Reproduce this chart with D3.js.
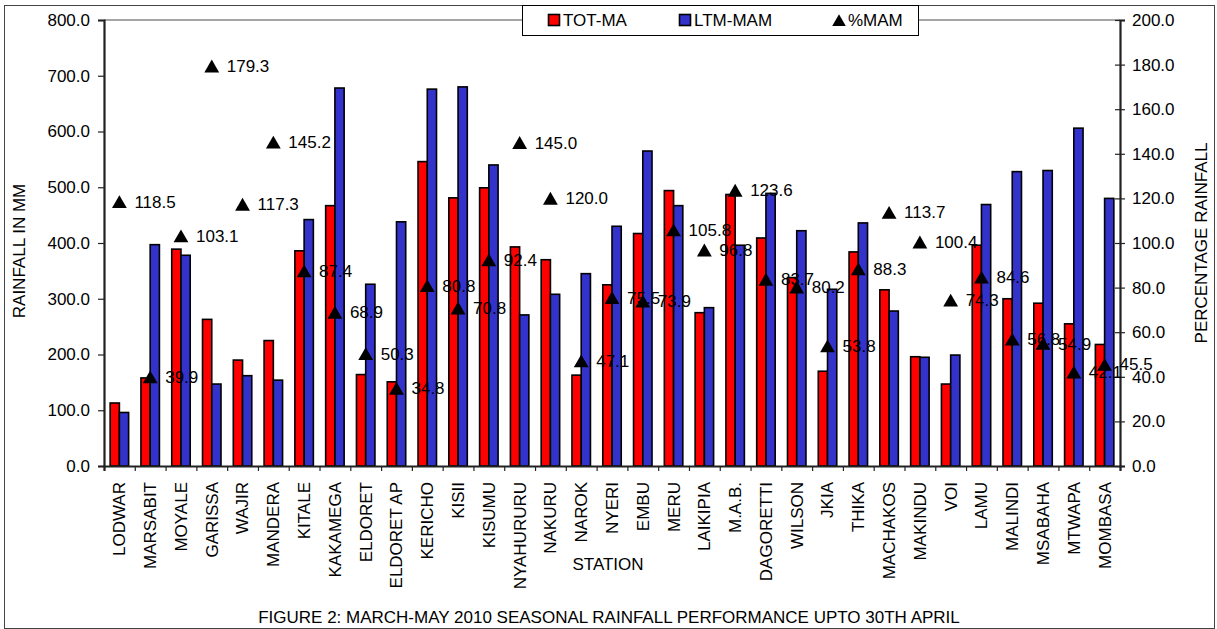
<!DOCTYPE html>
<html lang="en">
<head>
  <meta charset="UTF-8">
  <title>March-May 2010 seasonal rainfall performance</title>
  <script src="https://d3js.org/d3.v7.min.js"></script>
  <style>
    body { margin: 0; background: #fff; }
    svg { display: block; font-family: "Liberation Sans", Arial, sans-serif; }
    .tick text { font-size: 17px; fill: #000; }
    .lbl { font-size: 17px; fill: #000; }
  </style>
</head>
<body>
<svg width="1217" height="629"></svg>

<script>
  // stations along the x axis
  const stations = ["LODWAR", "MARSABIT", "MOYALE", "GARISSA", "WAJIR", "MANDERA", "KITALE",
    "KAKAMEGA", "ELDORET", "ELDORET AP", "KERICHO", "KISII", "KISUMU", "NYAHURURU", "NAKURU",
    "NAROK", "NYERI", "EMBU", "MERU", "LAIKIPIA", "M.A.B.", "DAGORETTI", "WILSON", "JKIA",
    "THIKA", "MACHAKOS", "MAKINDU", "VOI", "LAMU", "MALINDI", "MSABAHA", "MTWAPA", "MOMBASA"];

  // total rainfall Mar-Apr (mm)
  const totMA = [113, 158, 389, 263, 190, 225, 386, 467, 164, 151, 546, 481, 499, 393, 370,
    163, 325, 417, 494, 275, 487, 409, 338, 170, 384, 316, 196, 147, 396, 300, 292, 255, 218];

  // long term mean MAM (mm)
  const ltmMAM = [96, 397, 378, 147, 162, 154, 442, 678, 326, 438, 676, 680, 540, 271, 308,
    345, 430, 565, 467, 284, 396, 489, 422, 317, 436, 278, 195, 199, 469, 528, 530, 606, 480];

  // percentage of MAM
  const pctMAM = [118.5, 39.9, 103.1, 179.3, 117.3, 145.2, 87.4, 68.9, 50.3, 34.8, 80.8, 70.8,
    92.4, 145.0, 120.0, 47.1, 75.5, 73.9, 105.8, 96.8, 123.6, 83.7, 80.2, 53.8, 88.3, 113.7,
    100.4, 74.3, 84.6, 56.8, 54.9, 42.1, 45.5];

  const mmTicks = [0, 100, 200, 300, 400, 500, 600, 700, 800];
  const pctTicks = [0, 20, 40, 60, 80, 100, 120, 140, 160, 180, 200];

  const series = ["TOT-MA", "LTM-MAM", "%MAM"];
  const colors = {"TOT-MA": "#ff0000", "LTM-MAM": "#3333cc"};

  const svg = d3.select("svg");
  const margin = {top: 20, left: 104, right: 97, bottom: 163};
  const W = +svg.attr("width"), H = +svg.attr("height");
  const width = W - margin.left - margin.right;
  const height = H - margin.top - margin.bottom;

  // outer frame
  svg.append("rect")
    .attr("x", 4.5).attr("y", 5.5).attr("width", W - 7).attr("height", H - 6)
    .attr("fill", "none").attr("stroke", "#444").attr("stroke-width", 1);

  const g = svg.append("g").attr("transform", `translate(${margin.left},${margin.top})`);

  const x = d3.scaleBand().domain(stations).range([0, width]).padding(0);
  const xi = d3.scaleBand().domain(["TOT-MA", "LTM-MAM"])
    .range([x.bandwidth() * 0.2, x.bandwidth() * 0.8]).padding(0);
  const xb = d3.scaleLinear().domain([0, stations.length]).range([0, width]);
  const y = d3.scaleLinear().domain([0, 800]).range([height, 0]);
  const y2 = d3.scaleLinear().domain([0, 200]).range([height, 0]);

  // top border of plot area (gray)
  g.append("line")
    .attr("x1", 0).attr("x2", width).attr("y1", 0).attr("y2", 0)
    .attr("stroke", "#888").attr("stroke-width", 1.5);

  // bars
  const rows = stations.map((s, i) => ({s, v: [["TOT-MA", totMA[i]], ["LTM-MAM", ltmMAM[i]]]}));
  g.append("g").selectAll("g").data(rows).join("g")
      .attr("transform", d => `translate(${x(d.s)},0)`)
    .selectAll("rect").data(d => d.v).join("rect")
      .attr("x", d => xi(d[0]))
      .attr("y", d => y(d[1]))
      .attr("width", xi.bandwidth())
      .attr("height", d => height - y(d[1]))
      .attr("fill", d => colors[d[0]])
      .attr("stroke", "#000").attr("stroke-width", 1.6);

  // left axis
  const ax = g.append("g")
    .call(d3.axisLeft(y).tickValues(mmTicks).tickFormat(d3.format(".1f")).tickSize(6).tickPadding(8));
  ax.select(".domain").attr("stroke", "#222").attr("stroke-width", 2.2);
  ax.selectAll(".tick line").attr("stroke", "#222").attr("stroke-width", 1.2);

  // right axis, ticks crossing the line
  const ar = g.append("g").attr("transform", `translate(${width},0)`)
    .call(d3.axisRight(y2).tickValues(pctTicks).tickFormat(d3.format(".1f")).tickSize(5).tickPadding(7));
  ar.select(".domain").attr("stroke", "#222").attr("stroke-width", 2.2);
  ar.selectAll(".tick line").attr("x1", -5).attr("stroke", "#222").attr("stroke-width", 1.2);

  // bottom axis: ticks at category boundaries
  const ab = g.append("g").attr("transform", `translate(0,${height})`)
    .call(d3.axisBottom(xb).tickValues(d3.range(stations.length + 1)).tickFormat("").tickSize(5));
  ab.select(".domain").attr("stroke", "#222").attr("stroke-width", 2.2);
  ab.selectAll(".tick line").attr("stroke", "#222").attr("stroke-width", 1.2);

  // station labels
  g.append("g").selectAll("text").data(stations).join("text")
    .attr("class", "lbl")
    .attr("transform", d => `translate(${x(d) + x.bandwidth() / 2},${height + 16}) rotate(-90)`)
    .attr("text-anchor", "end")
    .attr("dy", "0.35em")
    .text(d => d);

  // %MAM markers (triangle box centred on the value)
  const tri = d3.symbol().type(d3.symbolTriangle).size(95);
  const pts = g.append("g");
  pts.selectAll("path").data(pctMAM).join("path")
    .attr("d", tri)
    .attr("transform", (d, i) => `translate(${x(stations[i]) + x.bandwidth() / 2},${y2(d) + 2})`)
    .attr("fill", "#000");
  pts.selectAll("text").data(pctMAM).join("text")
    .attr("class", "lbl")
    .attr("x", (d, i) => x(stations[i]) + x.bandwidth() / 2 + 15)
    .attr("y", d => y2(d))
    .attr("dy", "0.35em")
    .text(d => d.toFixed(1));

  // axis titles
  svg.append("text").attr("class", "lbl")
    .attr("transform", "translate(25,251) rotate(-90)")
    .attr("text-anchor", "middle").text("RAINFALL IN MM");
  svg.append("text").attr("class", "lbl")
    .attr("transform", "translate(1207,243) rotate(-90)")
    .attr("text-anchor", "middle").text("PERCENTAGE RAINFALL");
  svg.append("text").attr("class", "lbl")
    .attr("x", 608).attr("y", 570).attr("text-anchor", "middle").text("STATION");
  svg.append("text").attr("class", "lbl")
    .attr("x", 609).attr("y", 623).attr("text-anchor", "middle")
    .text("FIGURE 2: MARCH-MAY 2010 SEASONAL RAINFALL PERFORMANCE UPTO 30TH APRIL");

  // legend
  const legend = svg.append("g").attr("transform", "translate(522,5)");
  legend.append("rect").attr("x", 0.5).attr("y", 0.5).attr("width", 396).attr("height", 30)
    .attr("fill", "#fff").attr("stroke", "#000");
  const legX = [26, 157, 311];
  series.forEach((k, i) => {
    const row = legend.append("g").attr("transform", `translate(${legX[i]},0)`);
    if (colors[k]) {
      row.append("rect").attr("x", 0.5).attr("y", 9.5).attr("width", 11).attr("height", 11)
        .attr("fill", colors[k]).attr("stroke", "#000").attr("stroke-width", 1.6);
    } else {
      row.append("path").attr("d", d3.symbol().type(d3.symbolTriangle).size(80))
        .attr("transform", "translate(6,17)").attr("fill", "#000");
    }
    row.append("text").attr("class", "lbl")
      .attr("x", 15).attr("y", 21).text(k);
  });
</script>
</body>
</html>
